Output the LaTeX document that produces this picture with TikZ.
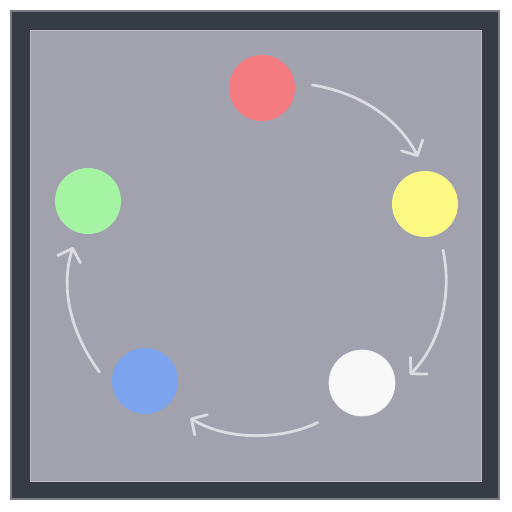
\documentclass[tikz,border=0pt]{standalone}
\usetikzlibrary{arrows.meta}
\definecolor{FrameDark}{RGB}{55,59,68}
\definecolor{FrameEdge}{RGB}{120,123,130}
\definecolor{PanelGray}{RGB}{162,161,174}
\definecolor{PanelEdge}{RGB}{192,192,200}
\definecolor{ArrowGray}{RGB}{220,220,226}
\definecolor{DotRed}{RGB}{244,124,128}
\definecolor{DotYellow}{RGB}{251,249,131}
\definecolor{DotWhite}{RGB}{248,248,248}
\definecolor{DotBlue}{RGB}{123,163,238}
\definecolor{DotGreen}{RGB}{164,244,164}
\begin{document}
\begin{tikzpicture}[x=0.02cm, y=0.02cm,
  dot/.style={circle, minimum size=1.32cm, inner sep=0pt},
  flow/.style={-{Straight Barb[length=6.5pt, width=13.5pt, round]}, ArrowGray, line width=1.6pt, line cap=round}]
\useasboundingbox (0,0) rectangle (512,512);
\fill[white] (0,0) rectangle (512,512);
\draw[FrameEdge, fill=FrameDark, line width=0.6pt] (11,13) rectangle (499,501);
\draw[PanelEdge, fill=PanelGray, line width=0.5pt] (30,31) rectangle (481,482);
\node[dot, fill=DotRed] (red) at (262,424) {};
\node[dot, fill=DotYellow] (yellow) at (425,308) {};
\node[dot, fill=DotWhite, draw=white!88!gray, line width=0.4pt] (white) at (362,129) {};
\node[dot, fill=DotBlue] (blue) at (145,131) {};
\node[dot, fill=DotGreen] (green) at (88,311) {};
\draw[flow, shorten <=0.355cm, shorten >=0.31cm] (red.10) to[out=-9, in=117] (yellow.north);
\draw[flow, shorten <=0.33cm, shorten >=0.43cm] (yellow.296) to[out=-78, in=45] (white.348);
\draw[flow, shorten <=0.56cm, shorten >=0.51cm] (white.235) to[out=206, in=-32] (blue.315);
\draw[flow, shorten <=0.44cm, shorten >=0.3cm] (blue.195) to[out=127, in=252] (green.252);
\end{tikzpicture}
\end{document}
